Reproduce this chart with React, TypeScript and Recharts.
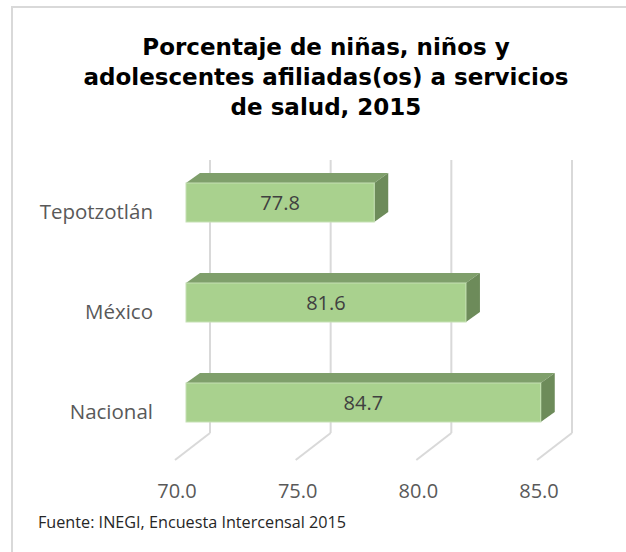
import React from 'react';
import { BarChart, Bar, XAxis, YAxis, CartesianGrid } from 'recharts';

const categories = ['Tepotzotlán', 'México', 'Nacional'];
const values = [77.8, 81.6, 84.7];
const xTicks = [70, 75, 80, 85];
const titleLines = ['Porcentaje de niñas, niños y', 'adolescentes afiliadas(os) a servicios', 'de salud, 2015'];
const sourceNote = 'Fuente: INEGI, Encuesta Intercensal 2015';

const data = categories.map((name, i) => ({ name, value: values[i] }));

// 3D projection constants
const DEPTH_DX = 35;
const DEPTH_DY = 27;
const BAR_FRONT_DX = 11;
const BAR_DEPTH_DX = 14;
const BAR_DEPTH_DY = 10;

const FRONT = '#a9d18e';
const TOP = '#7f9f6b';
const SIDE = '#6d8b5a';
const GRID = '#d9d9d9';
const LABEL = '#595959';
const FONT = '"Open Sans", sans-serif';

const Bar3D = (props: any) => {
  const { x, y, width, height, payload } = props;
  const fx = x + BAR_FRONT_DX;
  const rx = fx + width;
  return (
    <g>
      <polygon
        points={`${fx},${y} ${fx + BAR_DEPTH_DX},${y - BAR_DEPTH_DY} ${rx + BAR_DEPTH_DX},${y - BAR_DEPTH_DY} ${rx},${y}`}
        fill={TOP}
      />
      <polygon
        points={`${rx},${y} ${rx + BAR_DEPTH_DX},${y - BAR_DEPTH_DY} ${rx + BAR_DEPTH_DX},${y + height - BAR_DEPTH_DY} ${rx},${y + height}`}
        fill={SIDE}
      />
      <rect x={fx} y={y} width={width} height={height} fill={FRONT} stroke="#c5e0b4" strokeWidth={1} />
      <text
        x={fx + width / 2}
        y={y + height / 2}
        textAnchor="middle"
        dominantBaseline="central"
        fontFamily={FONT}
        fontSize={20}
        fill="#404040"
      >
        {payload.value.toFixed(1)}
      </text>
    </g>
  );
};

const GridLine = (props: any) => {
  const { x1, y1, y2, index } = props;
  const bx = x1 + DEPTH_DX;
  const top = y1 + 8;
  const floorBack = y2 + 8 - DEPTH_DY;
  return (
    <g key={`gl-${index}-${x1}`}>
      <line x1={bx} y1={top} x2={bx} y2={floorBack} stroke={GRID} strokeWidth={2} />
      <line x1={bx} y1={floorBack} x2={x1} y2={y2 + 8} stroke={GRID} strokeWidth={2} />
    </g>
  );
};

const XTick = (props: any) => {
  const { x, payload } = props;
  return (
    <text x={x + 2} y={490} textAnchor="middle" dominantBaseline="central" fontFamily={FONT} fontSize={20} fill={LABEL}>
      {Number(payload.value).toFixed(1)}
    </text>
  );
};

const YTick = (props: any) => {
  const { y, payload } = props;
  return (
    <text x={153} y={y + 9} textAnchor="end" dominantBaseline="central" fontFamily={FONT} fontSize={20.5} fill={LABEL}>
      {payload.value}
    </text>
  );
};

export default function App() {
  return (
    <div style={{ position: 'absolute', left: 0, top: 0, width: 626, height: 552, overflow: 'hidden', background: '#fff' }}>
      <div
        style={{
          position: 'absolute',
          left: 11,
          top: 6,
          width: 700,
          height: 700,
          border: `2px solid ${GRID}`,
          boxSizing: 'border-box',
        }}
      />
      <div
        style={{
          position: 'absolute',
          left: 12,
          width: 628,
          top: 32,
          textAlign: 'center',
          fontFamily: '"DejaVu Sans", sans-serif',
          fontWeight: 700,
          fontSize: 23,
          lineHeight: '30px',
          color: '#000',
        }}
      >
        {titleLines.map((l) => (
          <div key={l}>{l}</div>
        ))}
      </div>
      <div style={{ position: 'absolute', left: 0, top: 0 }}>
        <BarChart
          width={626}
          height={552}
          data={data}
          layout="vertical"
          margin={{ top: 152, right: 89, bottom: 40, left: 10 }}
        >
          <CartesianGrid horizontal={false} vertical={GridLine as any} />
          <XAxis
            type="number"
            domain={[70, 85]}
            ticks={xTicks}
            height={60}
            axisLine={false}
            tickLine={false}
            tick={<XTick />}
          />
          <YAxis type="category" dataKey="name" width={165} axisLine={false} tickLine={false} tick={<YTick />} />
          <Bar dataKey="value" barSize={39} shape={<Bar3D />} isAnimationActive={false} />
        </BarChart>
      </div>
      <div
        style={{
          position: 'absolute',
          left: 38,
          top: 511,
          fontFamily: FONT,
          fontSize: 16.2,
          lineHeight: '22px',
          color: '#262626',
          whiteSpace: 'nowrap',
        }}
      >
        {sourceNote}
      </div>
    </div>
  );
}
